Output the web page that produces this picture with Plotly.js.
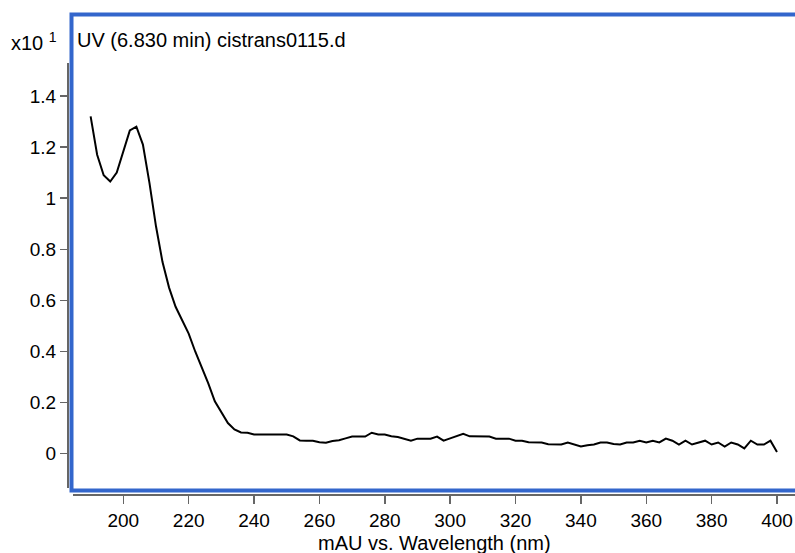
<!DOCTYPE html>
<html>
<head>
<meta charset="utf-8">
<script src="https://cdn.plot.ly/plotly-3.0.1.min.js"></script>
<style>html,body{margin:0;padding:0;background:#fff;}#chart{width:795px;height:553px;}</style>
</head>
<body>
<div id="chart"></div>
<script>
// Wavelength (nm)
var wavelength = [190,192,194,196,198,200,202,204,206,208,210,212,214,216,218,220,222,224,226,228,
  230,232,234,236,238,240,242,244,246,248,250,252,254,256,258,260,262,264,266,268,
  270,272,274,276,278,280,282,284,286,288,290,292,294,296,298,300,302,304,306,308,
  310,312,314,316,318,320,322,324,326,328,330,332,334,336,338,340,342,344,346,348,
  350,352,354,356,358,360,362,364,366,368,370,372,374,376,378,380,382,384,386,388,
  390,392,394,396,398,400];
// Absorbance (mAU, x10^1)
var absorbance = [1.32,1.17,1.09,1.065,1.10,1.18,1.265,1.28,1.21,1.06,0.89,0.75,0.65,0.575,0.525,0.47,0.40,0.34,0.275,0.205,
  0.16,0.12,0.095,0.083,0.082,0.075,0.075,0.075,0.075,0.075,0.075,0.068,0.052,0.051,0.051,0.045,0.043,0.05,0.053,0.06,
  0.067,0.067,0.067,0.082,0.075,0.075,0.068,0.065,0.058,0.051,0.059,0.059,0.059,0.067,0.051,0.06,0.068,0.078,0.068,0.067,
  0.067,0.067,0.059,0.059,0.059,0.051,0.051,0.045,0.044,0.044,0.037,0.036,0.036,0.044,0.036,0.028,0.033,0.036,0.044,0.044,
  0.038,0.036,0.044,0.044,0.051,0.044,0.051,0.044,0.059,0.051,0.036,0.051,0.036,0.044,0.051,0.036,0.044,0.028,0.044,0.036,
  0.021,0.051,0.036,0.036,0.051,0.007];
var xTicks = [200,220,240,260,280,300,320,340,360,380,400];
var yTicks = [0,0.2,0.4,0.6,0.8,1,1.2,1.4];
var yTickText = ["0","0.2","0.4","0.6","0.8","1","1.2","1.4"];

var W = 795, H = 553;
function px(x){return x/W;}
function py(y){return (H-y)/H;}
var FONT = "Liberation Sans, Arial, sans-serif";
var GRAY = "#666666";
var BLUE = "#3366cc";

var trace = {
  x: wavelength, y: absorbance, type: "scatter", mode: "lines",
  line: {color: "#000000", width: 2}, hoverinfo: "x+y"
};

var layout = {
  width: W, height: H,
  margin: {l: 0, r: 0, t: 0, b: 0, pad: 0},
  paper_bgcolor: "#ffffff", plot_bgcolor: "rgba(0,0,0,0)",
  showlegend: false,
  font: {family: FONT, color: "#000000", size: 19},
  title: {
    text: "UV (6.830 min) cistrans0115.d",
    font: {family: FONT, size: 20, color: "#000000"},
    xref: "paper", yref: "paper",
    x: px(77), xanchor: "left", y: py(40), yanchor: "middle"
  },
  xaxis: {
    domain: [px(73), 1],
    range: [184.61, 405.51],
    anchor: "free", position: py(495),
    showgrid: false, zeroline: false,
    showline: true, linecolor: GRAY, linewidth: 2,
    ticks: "outside", ticklen: 8, tickwidth: 1.5, tickcolor: GRAY,
    tickvals: xTicks, ticktext: xTicks.map(String),
    tickfont: {family: FONT, size: 19, color: "#000000"},
    automargin: false
  },
  yaxis: {
    domain: [py(488), py(63)],
    range: [-0.1342, 1.5291],
    anchor: "free", position: px(68),
    showgrid: false, zeroline: false,
    showline: true, linecolor: GRAY, linewidth: 2,
    ticks: "outside", ticklen: 7, tickwidth: 1.5, tickcolor: GRAY,
    tickvals: yTicks, ticktext: yTickText,
    tickfont: {family: FONT, size: 19, color: "#000000"},
    automargin: false
  },
  shapes: [
    {type: "rect", xref: "paper", yref: "paper",
     x0: px(71.5), x1: 1.02, y0: py(490.5), y1: py(14.5),
     line: {color: BLUE, width: 4}, fillcolor: "rgba(0,0,0,0)", layer: "above"}
  ],
  annotations: [
    {text: "x10 <sup>1</sup>", xref: "paper", yref: "paper",
     x: px(9), xanchor: "left", y: py(41), yanchor: "middle",
     showarrow: false, font: {family: FONT, size: 20, color: "#000000"}},
    {text: "mAU vs. Wavelength (nm)", xref: "paper", yref: "paper",
     x: px(434), xanchor: "center", y: py(543), yanchor: "middle",
     showarrow: false, font: {family: FONT, size: 20, color: "#000000"}}
  ]
};

Plotly.newPlot("chart", [trace], layout, {displayModeBar: false, staticPlot: true});
</script>
</body>
</html>
